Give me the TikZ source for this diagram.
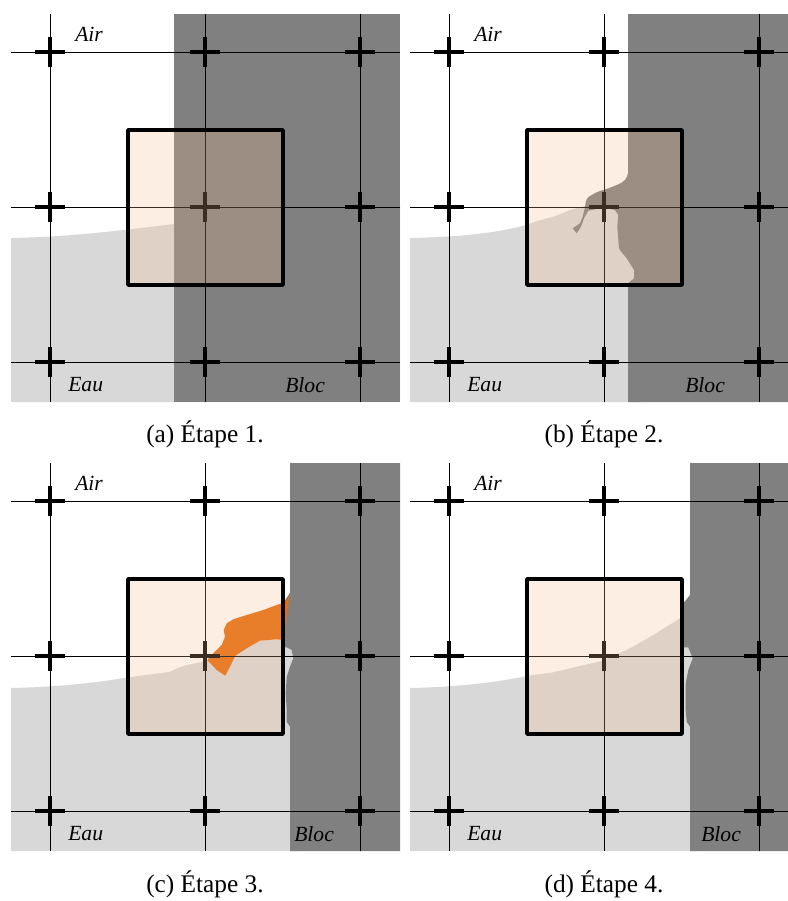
\documentclass[tikz,border=0pt]{standalone}
\usepackage{fontspec}
\setmainfont{Liberation Serif}
\definecolor{water}{HTML}{D8D8D8}
\definecolor{blocgray}{HTML}{808080}
\definecolor{tint}{HTML}{F6BD8C}
\definecolor{orangefluid}{HTML}{E66B0B}
\tikzset{
  gridline/.style={black,line width=0.75pt},
  crossmark/.style={black,line width=2.7pt},
  cellbox/.style={black,line width=2.8pt,line join=round,fill=tint,fill opacity=0.244,draw opacity=1},
  lab/.style={font=\fontsize{16.2pt}{18pt}\selectfont\itshape,inner sep=0pt},
  captext/.style={font=\fontsize{19pt}{22pt}\selectfont,inner sep=0pt}
}
\newcommand{\panelgrid}{%
  \foreach \g in {39,194,349}{\draw[gridline] (\g,0) -- (\g,388); \draw[gridline] (0,\g-1) -- (389,\g-1);}
  \foreach \gx in {39,194,349}\foreach \gy in {38,193,348}{
    \draw[crossmark] (\gx-15,\gy) -- (\gx+15,\gy);
    \draw[crossmark] (\gx,\gy-15) -- (\gx,\gy+15);}
}
\newcommand{\panelbox}{\draw[cellbox] (117,116) rectangle (272,271);}
\begin{document}
\begin{tikzpicture}[x=0.75pt,y=-0.75pt]
\path[use as bounding box] (0,0) rectangle (788,901);
\fill[white] (0,0) rectangle (788,901);
% (a)
\begin{scope}[shift={(11,14)}]
 \clip (0,0) rectangle (389,388);
 \fill[water] (0,224) .. controls (50,223) and (90,219) .. (163,210) -- (389,190) -- (389,388) -- (0,388) -- cycle;
 \fill[blocgray] (163,0) rectangle (389,388);
 \panelgrid \panelbox
 \node[lab,anchor=west] at (64,20) {Air};
 \node[lab,anchor=west] at (57,371) {Eau};
 \node[lab,anchor=west] at (274,371) {Bloc};
\end{scope}
% (b)
\begin{scope}[shift={(399,14)}]
 \clip (11,0) rectangle (389,388);
 \fill[water] (11,224) .. controls (60,223) and (100,219) .. (129,210.3) .. controls (140,206) and (150,204) .. (154.3,202.7) -- (164,199) .. controls (170,196) and (178,194) .. (186,192) -- (245,190) -- (245,388) -- (11,388) -- cycle;
 \fill[blocgray] (229,0) -- (229,159.3) .. controls (228.5,162) and (227.5,164) .. (226,166) .. controls (224,168) and (221,170) .. (217.7,171)
   .. controls (213,173) and (208,175) .. (204.3,176) .. controls (200,177) and (196,179) .. (192.7,181)
   .. controls (189,183) and (187,185) .. (186.7,187.7) -- (186,193.3) -- (183.7,202.7) -- (181,209.3) -- (173.7,214.3) -- (177.7,219.3) -- (182,212.7) -- (185,204.3) -- (189.3,196.7) -- (196,195.3) -- (203,194) -- (210,194.5) -- (216,196) -- (219.3,201) -- (218.3,212.7) -- (220,234.3) .. controls (222,238) and (225,241) .. (227.7,244.3) -- (235,256) -- (235,264.3) -- (229,269.3) -- (229,388) -- (389,388) -- (389,0) -- cycle;
 \begin{scope}[shift={(11,0)}]
 \panelgrid \panelbox
 \node[lab,anchor=west] at (64,20) {Air};
 \node[lab,anchor=west] at (57,371) {Eau};
 \node[lab,anchor=west] at (275,371) {Bloc};
 \end{scope}
\end{scope}
% (c)
\begin{scope}[shift={(11,463)}]
 \clip (0,0) rectangle (389,388);
 \fill[water] (0,225) .. controls (50,224) and (90,219) .. (117.3,214.3) -- (142.3,211) .. controls (150,210) and (155,209.5) .. (159,208.7) .. controls (165,206) and (170,203.5) .. (175.7,202) -- (192.3,198.7) -- (200,196) -- (224,193) -- (235.7,185.3) -- (249,177.7) -- (265.7,176.3) -- (272,177) -- (290,180) -- (290,388) -- (0,388) -- cycle;
 \fill[blocgray] (279,0) -- (279,129.7) -- (272.3,140) -- (272.3,184.3) -- (275.7,184.3) -- (280.7,187) -- (282.3,195.3) -- (279,203.7) -- (275.7,213.7) -- (274.7,230.3) -- (275.7,247) -- (275.7,258.7) -- (279,263.7) -- (279,388) -- (389,388) -- (389,0) -- cycle;
 \fill[orangefluid] (279,129.7) -- (277.3,135.3) -- (272.3,139.7) -- (265.7,142) -- (252.3,147) -- (235.7,152) -- (222.3,156.3) -- (215.7,160.3) -- (212.7,167) -- (214,173.7) -- (210.7,182) -- (200.7,192) -- (196.3,197) -- (205.7,207) -- (214.3,212.7) -- (220.7,200.3) -- (224,193) -- (235.7,185.3) -- (249,177.7) -- (265.7,176.3) -- (272.3,177) -- cycle;
 \panelgrid \panelbox
 \node[lab,anchor=west] at (64,20) {Air};
 \node[lab,anchor=west] at (57,371) {Eau};
 \node[lab,anchor=west] at (283,371) {Bloc};
\end{scope}
% (d)
\begin{scope}[shift={(399,463)}]
 \clip (11,0) rectangle (389,388);
 \fill[water] (11,225) .. controls (60,224) and (100,219) .. (129.3,212.7) -- (154.3,209.3) -- (177.7,203.7) -- (204.3,197.7) -- (231,185.3) -- (254.3,172) -- (281,155.3) -- (300,140) -- (300,388) -- (11,388) -- cycle;
 \fill[blocgray] (291,0) -- (291,132) -- (284.3,140.3) -- (284.3,184.3) -- (289.3,184.3) -- (293.7,195.3) -- (289.3,207) -- (286.7,220.3) -- (286.7,247) -- (287.7,258.7) -- (291,263.7) -- (291,388) -- (389,388) -- (389,0) -- cycle;
 \begin{scope}[shift={(11,0)}]
 \panelgrid \panelbox
 \node[lab,anchor=west] at (64,20) {Air};
 \node[lab,anchor=west] at (57,371) {Eau};
 \node[lab,anchor=west] at (291,371) {Bloc};
 \end{scope}
\end{scope}
\node[captext] (capa) at (205,434) {(a) Étape 1.};
\node[captext] (capb) at (604,434) {(b) Étape 2.};
\node[captext] (capc) at (205,884) {(c) Étape 3.};
\node[captext] (capd) at (604,884) {(d) Étape 4.};
\end{tikzpicture}
\end{document}
